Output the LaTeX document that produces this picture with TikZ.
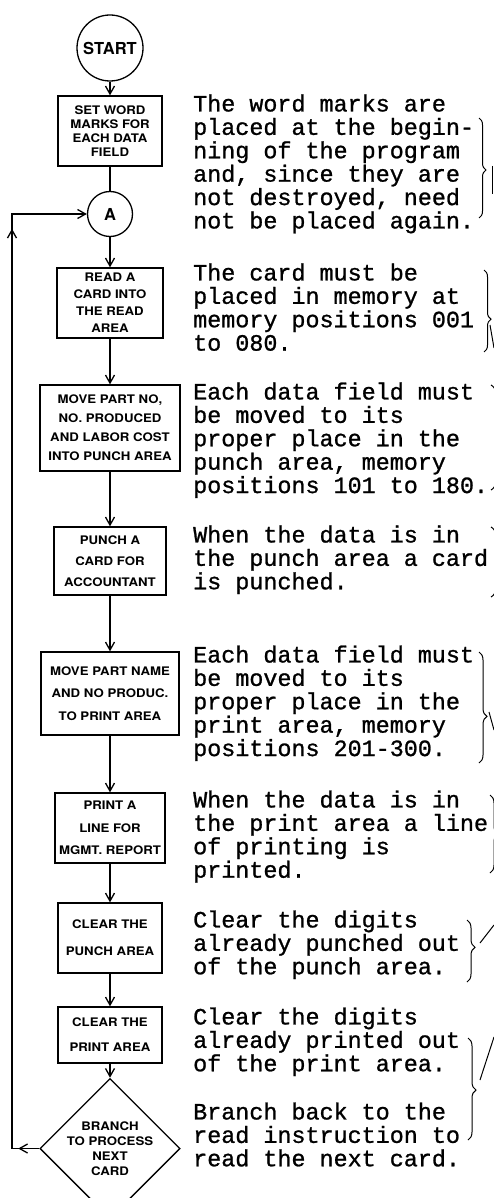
\documentclass[tikz,border=0pt]{standalone}
\usepackage{fontspec}
\usepackage{tikz}
\usetikzlibrary{arrows.meta,shapes.geometric,decorations.pathreplacing,decorations.markings}
\newfontfamily\notefont[FakeBold=1]{Liberation Mono}
\newfontfamily\boxfont[FakeStretch=1.12]{TeX Gyre Heros}
\newfontfamily\ringfont{TeX Gyre Heros}
\newcommand{\lsp}[1]{\fontsize{11.8}{#1}\selectfont}
\tikzset{
  flowline/.style = {line width=1.3pt},
  flowarr/.style  = {-{Straight Barb[length=8pt,width=9pt]},line width=1.3pt},
  flowbox/.style  = {draw,line width=1.3pt,rectangle,inner sep=0pt,align=center,
                     font=\boxfont\bfseries\lsp{#1}},
  ring/.style     = {draw,circle,line width=1.3pt,inner sep=0pt,
                     font=\ringfont\bfseries\fontsize{16.5}{16.5}\selectfont},
  notetext/.style = {anchor=north west,inner sep=0pt,align=left,
                     font=\notefont\fontsize{23.4}{23.4}\selectfont},
  notebrace/.style= {decorate,decoration={brace,amplitude=#1},line width=1pt},
  looparr/.style  = {postaction={decorate},decoration={markings,
                     mark=at position 21pt with {\arrow{Straight Barb[length=8pt,width=9pt]}},
                     mark=at position 947pt with {\arrow{Straight Barb[length=8pt,width=9pt]}}}}
}

\begin{document}
\begin{tikzpicture}[x=1pt,y=-1pt]
  \fill[white] (0,0) rectangle (494,1198);
  \useasboundingbox (0,0) rectangle (494,1198);

  \node[ring,minimum size=66pt] (start) at (110,48) {START};
  \node[flowbox=14,minimum width=104pt,minimum height=70pt] (set) at (110,131)
    {SET WORD\\MARKS FOR\\EACH DATA\\FIELD};
  \node[ring,minimum size=45pt] (a) at (110,214) {A};
  \node[flowbox=17,minimum width=106pt,minimum height=70pt] (read) at (110,303)
    {READ A\\CARD INTO\\THE READ\\AREA};
  \node[flowbox=19,minimum width=140pt,minimum height=86pt] (movepunch) at (110,428)
    {MOVE PART NO,\\NO. PRODUCED\\AND LABOR COST\\INTO PUNCH AREA};
  \node[flowbox=21,minimum width=112pt,minimum height=68pt] (punch) at (110,561)
    {PUNCH A\\CARD FOR\\ACCOUNTANT};
  \node[flowbox=22.5,minimum width=138pt,minimum height=83pt] (moveprint) at (110,693.5)
    {MOVE PART NAME\\AND NO PRODUC.\\TO PRINT AREA};
  \node[flowbox=22.5,minimum width=110pt,minimum height=70pt] (print) at (110,828)
    {PRINT A\\LINE FOR\\MGMT. REPORT};
  \node[flowbox=27,minimum width=104pt,minimum height=70pt] (clrpunch) at (110,938)
    {CLEAR THE\\PUNCH AREA};
  \node[flowbox=25,minimum width=104pt,minimum height=56pt] (clrprint) at (110,1035)
    {CLEAR THE\\PRINT AREA};
  \node[flowbox=15,diamond,minimum width=139pt,minimum height=97pt] (branch) at (110,1148.5)
    {BRANCH\\TO PROCESS\\NEXT\\CARD};

  \draw[flowarr]  (start) -- (set);
  \draw[flowline] (set) -- (a);
  \draw[flowarr]  (a) -- (read);
  \draw[flowarr]  (read) -- (movepunch);
  \draw[flowarr]  (movepunch) -- (punch);
  \draw[flowarr]  (punch) -- (moveprint);
  \draw[flowarr]  (moveprint) -- (print);
  \draw[flowarr]  (print) -- (clrpunch);
  \draw[flowarr]  (clrpunch) -- (clrprint);
  \draw[flowarr]  (clrprint) -- (branch);
  \coordinate (lb) at (12,1148.5);
  \coordinate (lt) at (12,214);
  \draw[flowarr,looparr] (branch.west) -- (lb) -- (lt) -- (a.west);

  \node[notetext] (n1) at (193,94.3)
    {The word marks are\\placed at the begin-\\ning of the program\\and, since they are\\not destroyed, need\\not be placed again.};
  \node[notetext] (n2) at (193,263.3)
    {The card must be\\placed in memory at\\memory positions 001\\to 080.};
  \node[notetext] (n3) at (193,382.3)
    {Each data field must\\be moved to its\\proper place in the\\punch area, memory\\positions 101 to 180.};
  \node[notetext] (n4) at (193,525.3)
    {When the data is in\\the punch area a card\\is punched.};
  \node[notetext] (n5) at (193,645.3)
    {Each data field must\\be moved to its\\proper place in the\\print area, memory\\positions 201-300.};
  \node[notetext] (n6) at (193,790.3)
    {When the data is in\\the print area a line\\of printing is\\printed.};
  \node[notetext] (n7) at (193,910.3)
    {Clear the digits\\already punched out\\of the punch area.};
  \node[notetext] (n8) at (193,1007.3)
    {Clear the digits\\already printed out\\of the print area.};
  \node[notetext] (n9) at (193,1102.3)
    {Branch back to the\\read instruction to\\read the next card.};

  \draw[notebrace=7pt,decoration={aspect=0.52}] (479,118) -- (479,218);
  \draw[line width=1pt] (492.5,166) -- (492.5,194);
  \draw[notebrace=7pt,decoration={aspect=0.6}] (484,270) -- (484,352);
  \draw[line width=1pt] (490,325) -- (494,348);
  \draw[notebrace=10pt] (491,385) -- (491,490);
  \draw[notebrace=10pt] (491,527) -- (491,597);
  \draw[notebrace=8pt,decoration={aspect=0.58}] (479,652) -- (479,763);
  \draw[line width=1pt] (489,712) -- (494,730);
  \draw[notebrace=8pt] (490,795) -- (490,873);
  \draw[notebrace=8pt,decoration={aspect=0.44}] (467,920) -- (467,982);
  \draw[line width=1pt] (480,943) -- (494,925);
  \draw[notebrace=8pt,decoration={aspect=0.51}] (468,1038) -- (468,1140);
  \draw[line width=1pt] (480,1080) -- (494,1037);
\end{tikzpicture}
\end{document}
